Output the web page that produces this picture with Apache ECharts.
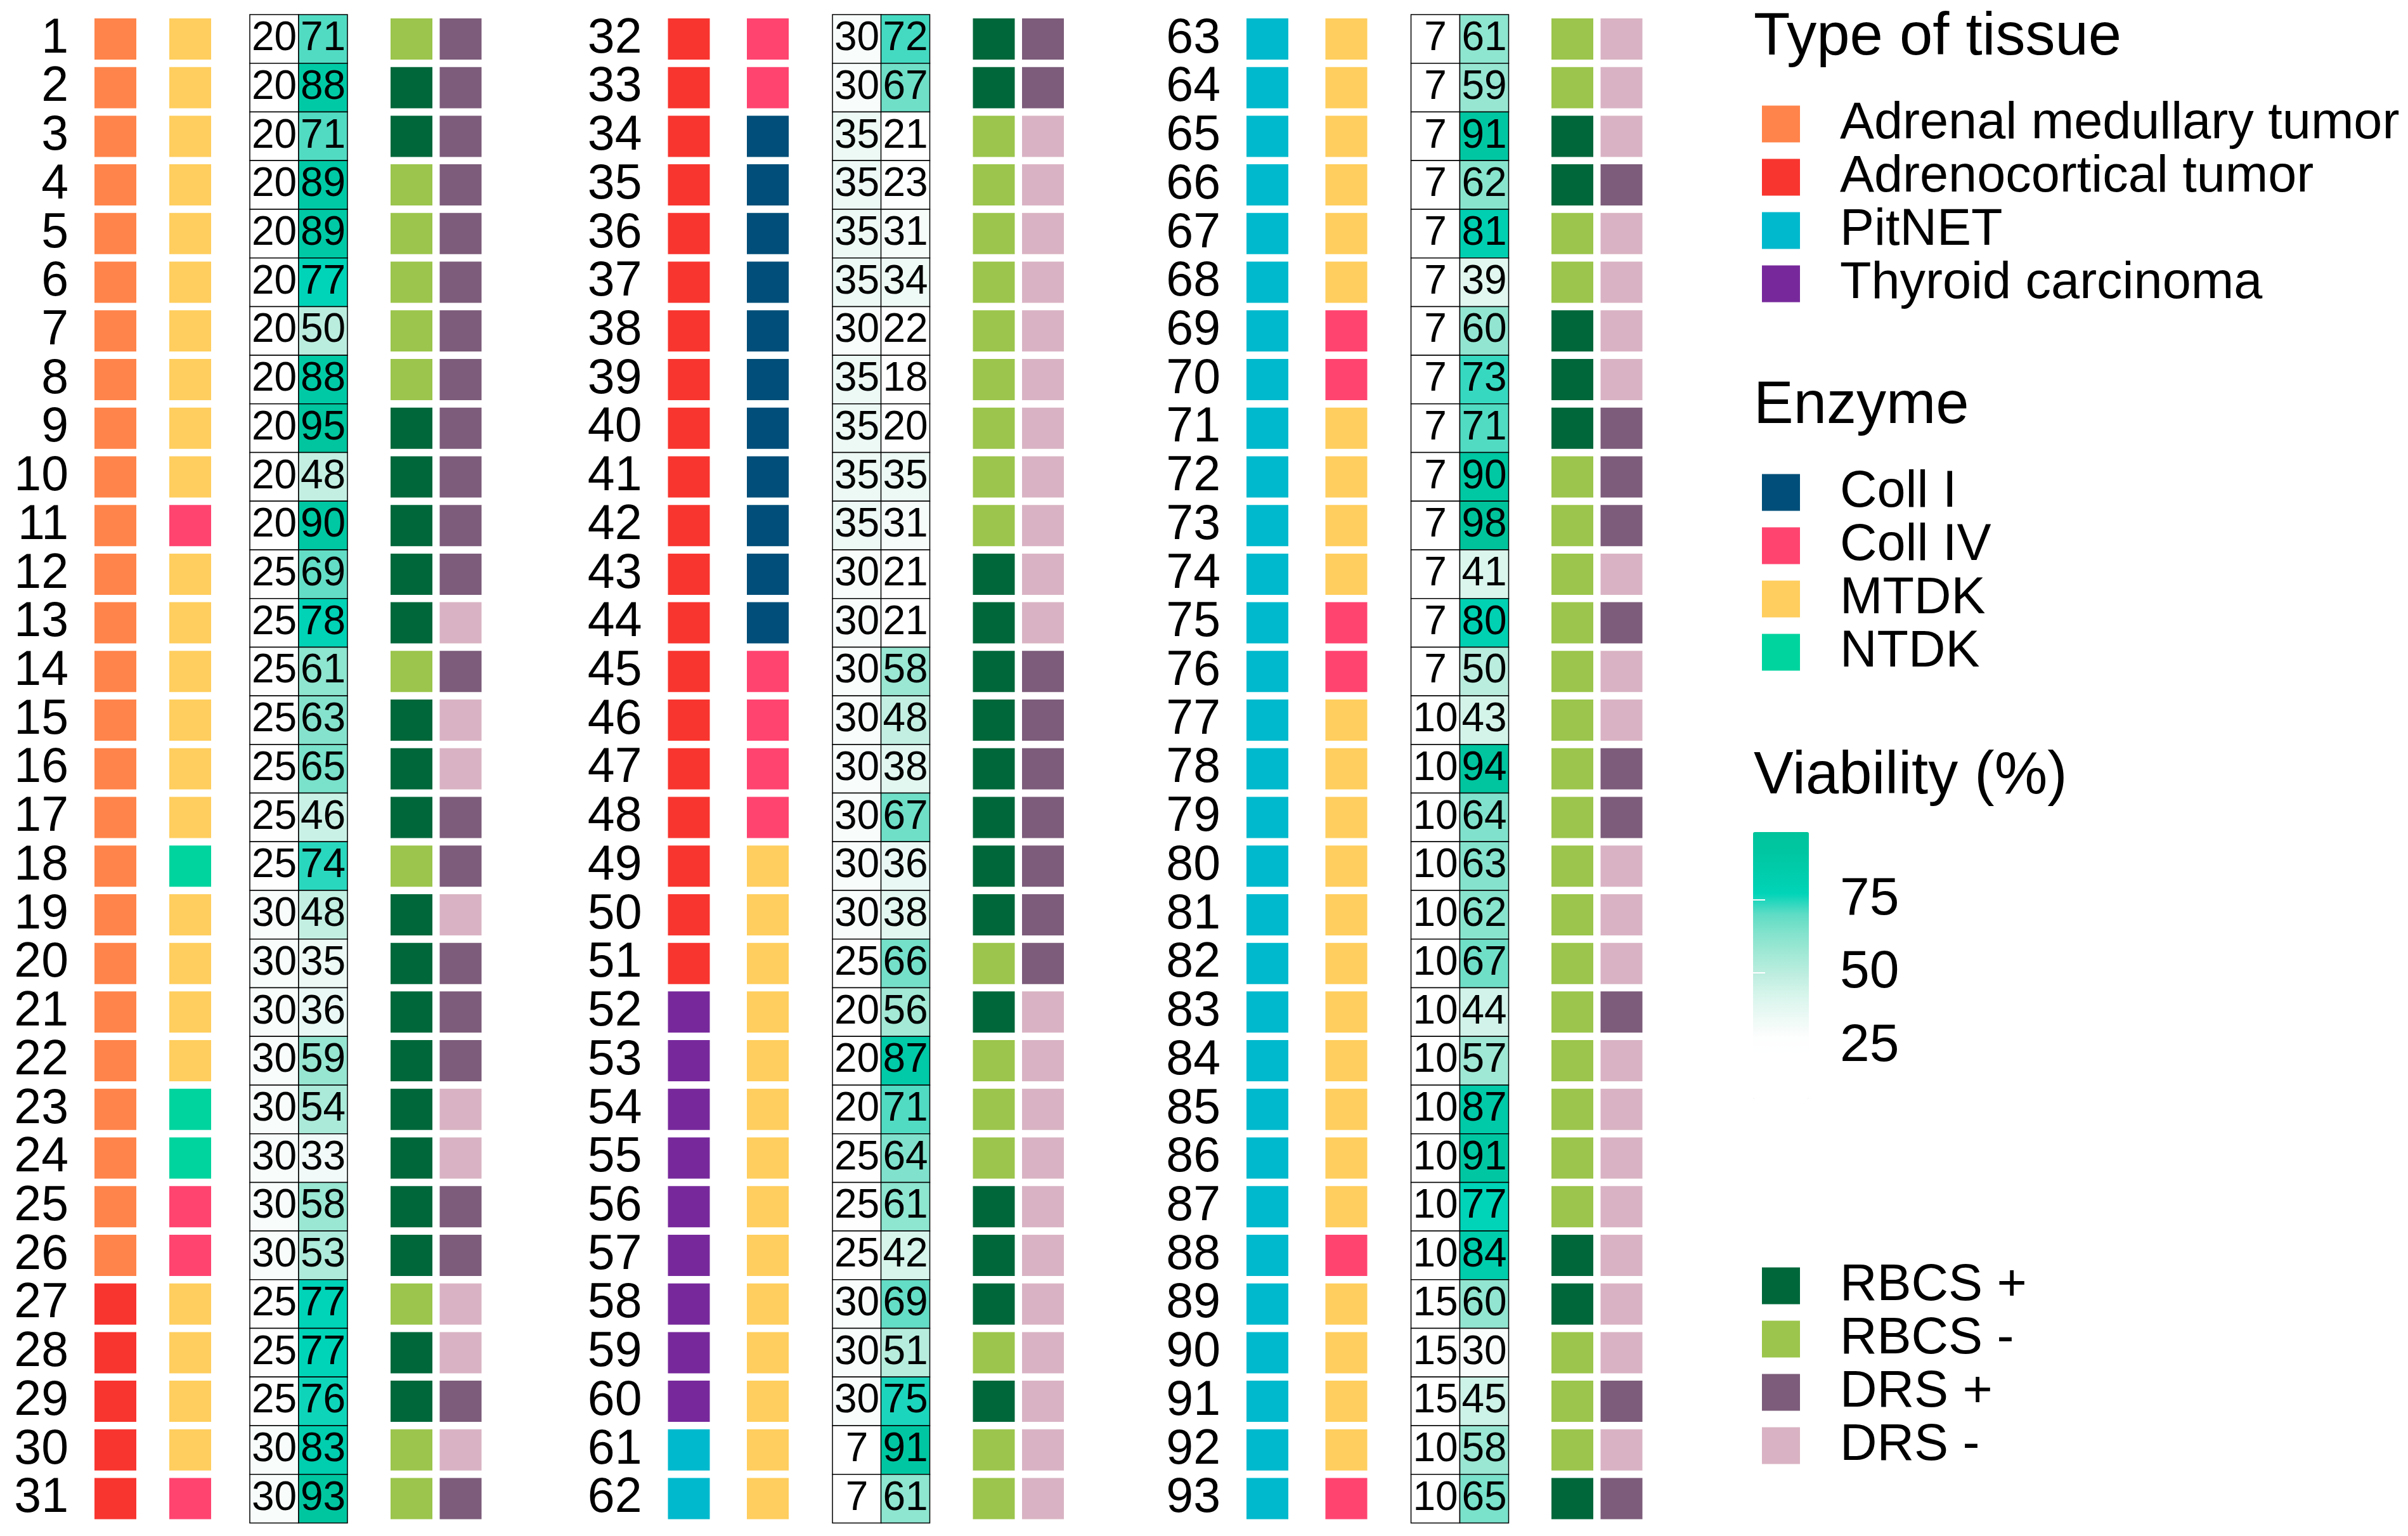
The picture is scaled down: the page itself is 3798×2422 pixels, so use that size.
<!DOCTYPE html>
<html>
<head>
<meta charset="utf-8">
<title>Samples overview</title>
<script src="https://cdn.jsdelivr.net/npm/echarts@6.0.0/dist/echarts.min.js"></script>
<style>
  html, body { margin: 0; padding: 0; background: #fff; }
  #main { width: 3798px; height: 2422px; }
</style>
</head>
<body>
<div id="main"></div>
<script>
// ---- categories ----
var TISSUE_TYPES = ['Adrenal medullary tumor', 'Adrenocortical tumor', 'PitNET', 'Thyroid carcinoma'];
var ENZYMES = ['Coll I', 'Coll IV', 'MTDK', 'NTDK'];
var STATUS_NAMES = ['RBCS +', 'RBCS -', 'DRS +', 'DRS -'];
var VIAB_TICKS = [25, 50, 75];

// ---- one entry per sample, samples 1..93 ----
var sampleNo = Array.from({ length: 93 }, function (_, i) { return String(i + 1); });

// index into TISSUE_TYPES
var tissue = [
  0, 0, 0, 0, 0, 0, 0, 0, 0, 0,
  0, 0, 0, 0, 0, 0, 0, 0, 0, 0,
  0, 0, 0, 0, 0, 0, 1, 1, 1, 1,
  1, 1, 1, 1, 1, 1, 1, 1, 1, 1,
  1, 1, 1, 1, 1, 1, 1, 1, 1, 1,
  1, 3, 3, 3, 3, 3, 3, 3, 3, 3,
  2, 2, 2, 2, 2, 2, 2, 2, 2, 2,
  2, 2, 2, 2, 2, 2, 2, 2, 2, 2,
  2, 2, 2, 2, 2, 2, 2, 2, 2, 2,
  2, 2, 2
];

// index into ENZYMES
var enzyme = [
  2, 2, 2, 2, 2, 2, 2, 2, 2, 2,
  1, 2, 2, 2, 2, 2, 2, 3, 2, 2,
  2, 2, 3, 3, 1, 1, 2, 2, 2, 2,
  1, 1, 1, 0, 0, 0, 0, 0, 0, 0,
  0, 0, 0, 0, 1, 1, 1, 1, 2, 2,
  2, 2, 2, 2, 2, 2, 2, 2, 2, 2,
  2, 2, 2, 2, 2, 2, 2, 2, 1, 1,
  2, 2, 2, 2, 1, 1, 2, 2, 2, 2,
  2, 2, 2, 2, 2, 2, 2, 1, 2, 2,
  2, 2, 1
];

var timeVal = [
  20, 20, 20, 20, 20, 20, 20, 20, 20, 20,
  20, 25, 25, 25, 25, 25, 25, 25, 30, 30,
  30, 30, 30, 30, 30, 30, 25, 25, 25, 30,
  30, 30, 30, 35, 35, 35, 35, 30, 35, 35,
  35, 35, 30, 30, 30, 30, 30, 30, 30, 30,
  25, 20, 20, 20, 25, 25, 25, 30, 30, 30,
  7, 7, 7, 7, 7, 7, 7, 7, 7, 7,
  7, 7, 7, 7, 7, 7, 10, 10, 10, 10,
  10, 10, 10, 10, 10, 10, 10, 10, 15, 15,
  15, 10, 10
];

var viability = [
  71, 88, 71, 89, 89, 77, 50, 88, 95, 48,
  90, 69, 78, 61, 63, 65, 46, 74, 48, 35,
  36, 59, 54, 33, 58, 53, 77, 77, 76, 83,
  93, 72, 67, 21, 23, 31, 34, 22, 18, 20,
  35, 31, 21, 21, 58, 48, 38, 67, 36, 38,
  66, 56, 87, 71, 64, 61, 42, 69, 51, 75,
  91, 61, 61, 59, 91, 62, 81, 39, 60, 73,
  71, 90, 98, 41, 80, 50, 43, 94, 64, 63,
  62, 67, 44, 57, 87, 91, 77, 84, 60, 30,
  45, 58, 65
];

var rbcs = ('-++-----++' + '+++-+++-++' + '++++++-++-' + '-++-------' + '--++++++++' +
            '-+---+++-+' + '----++--++' + '+---------' + '-------++-' + '--+').split('');
var drs = ('++++++++++' + '++-+--++-+' + '++--++--+-' + '+++-------' + '----++++++' +
           '+---------' + '-----+----' + '+++-+--++-' + '--+-------' + '+-+').split('');

// ---- styles / layout ----
var FONT = '"Liberation Sans", Arial, Helvetica, sans-serif';
var TISSUE_COLORS = ['#ff844b', '#f8352f', '#00b9cd', '#77299b'];
var ENZYME_COLORS = ['#004e79', '#ff4470', '#ffce5e', '#00d49e'];
var STATUS_COLORS = { 'RBCS +': '#00673a', 'RBCS -': '#9bc54c', 'DRS +': '#7c5c7a', 'DRS -': '#d9b3c3' };
var VIAB_COLORS = ['#ffffff', '#ffffff', '#ffffff', '#fdfefe', '#ecf9f5', '#d8f5ec', '#bfeee0',
                   '#a3e9d6', '#85e3cd', '#5fdcc5', '#00d4b8', '#00cdac', '#00c7a2', '#00c39b'];
var VMIN = 7, VMAX = 98;

var PER_COL = 31;
var ROW_TOP = 23.1, ROW_H = 76.72;
var GRID_W = 620;
var GROUP_LEFT = [149, 1053.5, 1966];
// column centres inside a group: tissue, enzyme, time, viability, RBCS, DRS
var COL_OFFSET = [
  [33, 151, 283.5, 360.5, 500, 577.5],
  [33, 157.5, 298, 374.5, 514, 591.5],
  [33, 157.5, 298, 375, 514, 591.5]
];
var TILE = [66, 65];
var CELL = [77, ROW_H];
var CB = { left: 2765, top: 1312, width: 88, pxPerUnit: 4.625 };
CB.height = (VMAX - VMIN) * CB.pxPerUnit;

function tile(name, g, data, color) {
  return {
    type: 'scatter', name: name, xAxisIndex: g, yAxisIndex: g,
    symbol: 'rect', symbolSize: TILE, clip: false, silent: true,
    itemStyle: { color: color, opacity: 1 },
    data: data
  };
}

function numCell(name, g, data) {
  return {
    type: 'scatter', name: name, xAxisIndex: g, yAxisIndex: g,
    symbol: 'rect', symbolSize: CELL, clip: false, silent: true,
    itemStyle: { borderColor: '#000', borderWidth: 1.5, opacity: 1 },
    label: {
      show: true, position: 'inside', color: '#000',
      fontSize: 64, fontFamily: FONT,
      formatter: function (p) { return p.value[2]; }
    },
    data: data
  };
}

var grids = [], xAxes = [], yAxes = [], series = [], heatIdx = [];

for (var g = 0; g < 3; g++) {
  (function (g) {
    var first = g * PER_COL;
    var idx = [];
    for (var i = first; i < Math.min(first + PER_COL, sampleNo.length); i++) idx.push(i);
    var cx = COL_OFFSET[g];
    var pt = function (i, c) { return [cx[c], i - first]; };

    grids.push({ left: GROUP_LEFT[g], top: ROW_TOP, width: GRID_W, height: ROW_H * PER_COL });
    xAxes.push({ gridIndex: g, type: 'value', min: 0, max: GRID_W, show: false });
    yAxes.push({
      gridIndex: g, type: 'category', inverse: true,
      data: idx.map(function (i) { return sampleNo[i]; }),
      axisLine: { show: false }, axisTick: { show: false }, splitLine: { show: false },
      axisLabel: { fontSize: 77, margin: 41, color: '#000', fontFamily: FONT, interval: 0 }
    });

    TISSUE_TYPES.forEach(function (name, t) {
      series.push(tile(name, g, idx.filter(function (i) { return tissue[i] === t; })
        .map(function (i) { return pt(i, 0); }), TISSUE_COLORS[t]));
    });
    ENZYMES.forEach(function (name, e) {
      series.push(tile(name, g, idx.filter(function (i) { return enzyme[i] === e; })
        .map(function (i) { return pt(i, 1); }), ENZYME_COLORS[e]));
    });

    heatIdx.push(series.length);
    series.push(numCell('Time', g, idx.map(function (i) { return [cx[2], i - first, timeVal[i]]; })));
    heatIdx.push(series.length);
    series.push(numCell('Viability (%)', g, idx.map(function (i) { return [cx[3], i - first, viability[i]]; })));

    ['+', '-'].forEach(function (s) {
      series.push(tile('RBCS ' + s, g, idx.filter(function (i) { return rbcs[i] === s; })
        .map(function (i) { return pt(i, 4); }), STATUS_COLORS['RBCS ' + s]));
    });
    ['+', '-'].forEach(function (s) {
      series.push(tile('DRS ' + s, g, idx.filter(function (i) { return drs[i] === s; })
        .map(function (i) { return pt(i, 5); }), STATUS_COLORS['DRS ' + s]));
    });
  })(g);
}

// colour bar axis (grid 3)
grids.push({ left: CB.left, top: CB.top, width: CB.width, height: CB.height });
xAxes.push({ gridIndex: 3, type: 'value', show: false, min: 0, max: 1 });
var cbTick = { show: true, inside: true, length: 19, lineStyle: { color: '#fff', width: 2 }, customValues: VIAB_TICKS };
yAxes.push({
  gridIndex: 3, type: 'value', position: 'right', min: VMIN, max: VMAX, z: 10,
  axisLine: { show: false }, splitLine: { show: false }, axisTick: cbTick,
  axisLabel: { customValues: VIAB_TICKS, fontSize: 84, margin: 49, color: '#000', fontFamily: FONT }
});
yAxes.push({
  gridIndex: 3, type: 'value', position: 'left', min: VMIN, max: VMAX, z: 10,
  axisLine: { show: false }, splitLine: { show: false }, axisTick: cbTick,
  axisLabel: { show: false }
});

var legendCommon = {
  orient: 'vertical', icon: 'rect', itemWidth: 60, itemHeight: 58, itemGap: 3,
  padding: 0, selectedMode: false, left: 2779,
  textStyle: { fontSize: 81, color: '#000', fontFamily: FONT, padding: [0, 0, 0, 58] }
};

function titleText(text, y) {
  return {
    type: 'text', x: 2766, y: y, silent: true,
    style: { text: text, fontSize: 94, fontFamily: FONT, fill: '#000', verticalAlign: 'middle', align: 'left' }
  };
}

var option = {
  backgroundColor: '#fff',
  animation: false,
  grid: grids,
  xAxis: xAxes,
  yAxis: yAxes,
  legend: [
    Object.assign({}, legendCommon, { data: TISSUE_TYPES, top: 155 }),
    Object.assign({}, legendCommon, { data: ENZYMES, top: 736 }),
    Object.assign({}, legendCommon, { data: STATUS_NAMES, top: 1987 })
  ],
  visualMap: {
    type: 'continuous', seriesIndex: heatIdx, dimension: 2,
    min: VMIN, max: VMAX, calculable: false, hoverLink: false,
    inRange: { color: VIAB_COLORS },
    orient: 'vertical', left: CB.left, top: CB.top, padding: 0,
    itemWidth: CB.width, itemHeight: CB.height
  },
  graphic: [
    titleText('Type of tissue', 60),
    titleText('Enzyme', 641),
    titleText('Viability (%)', 1225)
  ],
  series: series
};

var myChart = echarts.init(document.getElementById('main'));
myChart.setOption(option);
</script>
</body>
</html>
